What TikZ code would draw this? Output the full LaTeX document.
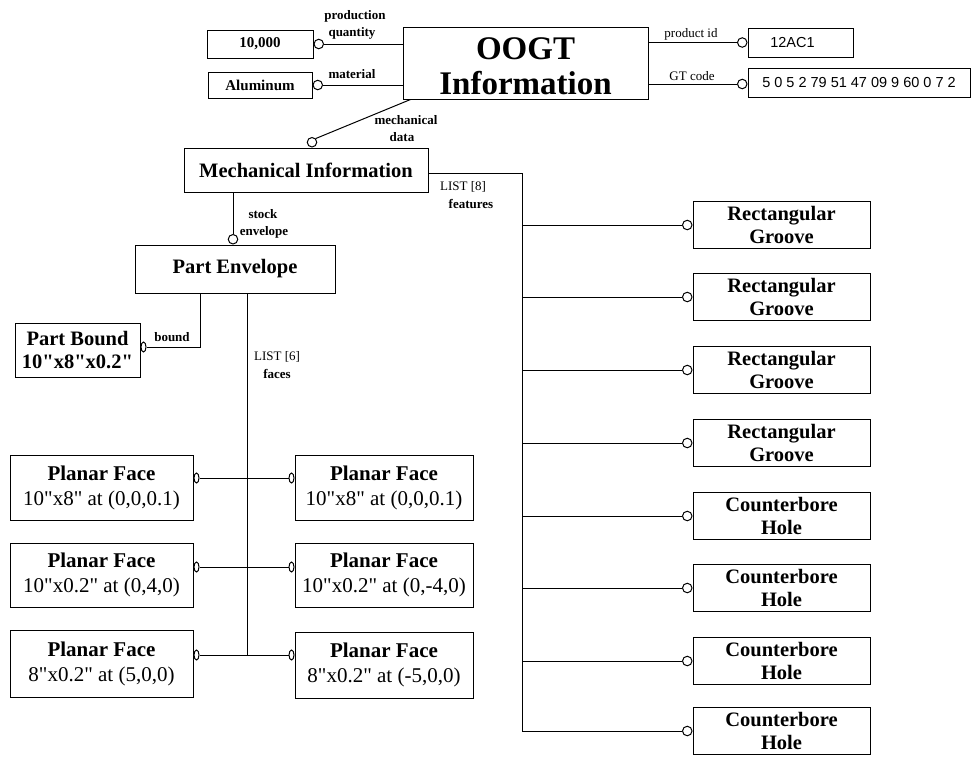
\documentclass[tikz,border=0pt]{standalone}
\usepackage{fontspec}
\setmainfont{Liberation Serif}[Ligatures=TeXOff]
\newfontfamily\sansf{Liberation Sans}
\usetikzlibrary{shapes.geometric}
\begin{document}
\begin{tikzpicture}[x=1pt,y=-1pt,
  box/.style={draw, line width=1pt, rectangle, inner sep=0pt, align=center,
    font=\bfseries\fontsize{20.5}{23}\selectfont},
  facebox/.style={box, minimum width=183pt, font=\fontsize{21}{25}\selectfont},
  featbox/.style={box, minimum width=177pt, minimum height=47pt},
  ring/.style={draw, circle, minimum size=9.5pt, inner sep=0pt, line width=1pt, fill=white},
  oval/.style={draw, ellipse, minimum width=5pt, minimum height=10pt, inner sep=0pt, line width=1pt, fill=white},
  lab/.style={font=\bfseries\fontsize{13}{14}\selectfont, inner sep=0pt},
  labr/.style={font=\fontsize{13}{14}\selectfont, inner sep=0pt},
  wire/.style={line width=1pt}]
\useasboundingbox (0,0) rectangle (973,756);
% top level
\node[box, minimum width=245pt, minimum height=72pt, font=\bfseries\fontsize{33}{35}\selectfont] (oogt) at (525.5,63) {\rule{0pt}{29pt}OOGT\\Information};
\node[box, minimum width=106pt, minimum height=28pt, font=\bfseries\fontsize{15}{17}\selectfont] (qty) at (260,44) {10,000};
\node[box, minimum width=104pt, minimum height=26pt, font=\bfseries\fontsize{15}{17}\selectfont] (alu) at (260,85) {Aluminum};
\node[box, minimum width=105pt, minimum height=29pt, font=\sansf\fontsize{14.5}{17}\selectfont] (pid) at (800.5,42.5) {\hspace*{-16pt}12AC1};
\node[box, minimum width=222pt, minimum height=29pt, font=\sansf\fontsize{14.5}{17}\selectfont] (gtc) at (859,82.5) {5 0 5 2 79 51 47 09 9 60 0 7 2};
% rings top
\node[ring, anchor=west] (rq) at (qty.east) {};
\node[ring, anchor=west] (ra) at (alu.east) {};
\node[ring, anchor=east] (rp) at (pid.west) {};
\node[ring, anchor=east] (rg) at ([yshift=-1.5pt]gtc.west) {};
\draw[wire] (rq.east) -- (oogt.west |- rq.east);
\draw[wire] (ra.east) -- (oogt.west |- ra.east);
\draw[wire] (rp.west) -- (oogt.east |- rp.west);
\draw[wire] (rg.west) -- (oogt.east |- rg.west);
\node[lab] (l1) at (355,16) {production};
\node[lab] (l2) at (352,33) {quantity};
\node[lab] (l3) at (352,74) {material};
\node[labr] (l4) at (691,34) {product id};
\node[labr] (l5) at (692,76) {GT code};
% mechanical
\node[box, minimum width=244pt, minimum height=44pt] (mech) at (306,170) {Mechanical Information};
\node[ring, anchor=south] (rm) at ([xshift=6pt]mech.north) {};
\draw[wire] (rm.north east) -- ([xshift=8pt]oogt.south west);
\node[lab] (l6) at (406,120) {mechanical};
\node[lab] (l7) at (402,137) {data};
% part envelope
\node[box, minimum width=200pt, minimum height=48pt] (env) at (235,269) {Part Envelope};
\node[ring, anchor=south] (re) at ([xshift=-2pt]env.north) {};
\draw[wire] (mech.south -| re.north) -- (re.north);
\node[lab] (l8) at (263,214) {stock};
\node[lab] (l9) at (264,232) {envelope};
% part bound
\node[box, minimum width=125pt, minimum height=54pt] (bound) at (77.5,350) {Part Bound\\10"x8"x0.2"};
\node[oval, anchor=west] (ob) at ([yshift=3pt]bound.east) {};
\coordinate (bk) at (200,347);
\draw[wire] (ob.east) -- (bk) -- (bk |- env.south);
\node[lab] (l10) at (172,337) {bound};
% faces
\coordinate (ft) at (247,655);
\draw[wire] (env.south -| ft) -- (ft);
\node[labr] (l11) at (277,357) {LIST [6]};
\node[lab] (l12) at (277,374) {faces};
\node[facebox, minimum height=65pt] (lf1) at (101.5,487.5) {\textbf{Planar Face}\\10"x8" at (0,0,0.1)};
\node[facebox, minimum height=64pt] (lf2) at (101.5,575) {\textbf{Planar Face}\\10"x0.2" at (0,4,0)};
\node[facebox, minimum height=67pt] (lf3) at (101.5,663.5) {\textbf{Planar Face}\\8"x0.2" at (5,0,0)};
\node[facebox, minimum width=178pt, minimum height=65pt] (rf1) at (384,487.5) {\textbf{Planar Face}\\10"x8" at (0,0,0.1)};
\node[facebox, minimum width=178pt, minimum height=64pt] (rf2) at (384,575) {\textbf{Planar Face}\\10"x0.2" at (0,-4,0)};
\node[facebox, minimum width=178pt, minimum height=66pt] (rf3) at (384,665) {\textbf{Planar Face}\\8"x0.2" at (-5,0,0)};
\foreach \i/\yy in {1/478,2/567,3/655}{
  \node[oval, anchor=west] (ol\i) at (lf\i.east |- 0,\yy) {};
  \node[oval, anchor=east] (or\i) at (rf\i.west |- 0,\yy) {};
  \draw[wire] (ol\i.east) -- (or\i.west);
}
% features
\coordinate (trunk) at (522,173);
\node[labr] (l13) at (463,187) {LIST [8]};
\node[lab] (l14) at (471,204) {features};
\foreach \i/\yy/\t in {1/225/{Rectangular\\Groove},2/297/{Rectangular\\Groove},3/370/{Rectangular\\Groove},4/443/{Rectangular\\Groove},5/516/{Counterbore\\Hole},6/588/{Counterbore\\Hole},7/661/{Counterbore\\Hole},8/731/{Counterbore\\Hole}}{
  \node[featbox] (f\i) at (781.5,\yy) {\t};
  \node[ring, anchor=east] (rf\i r) at (f\i.west) {};
  \draw[wire] (rf\i r.west) -- (trunk |- rf\i r.west);
}
\draw[wire] (mech.east |- trunk) -- (trunk) -- (trunk |- rf8r.west);
\end{tikzpicture}
\end{document}
